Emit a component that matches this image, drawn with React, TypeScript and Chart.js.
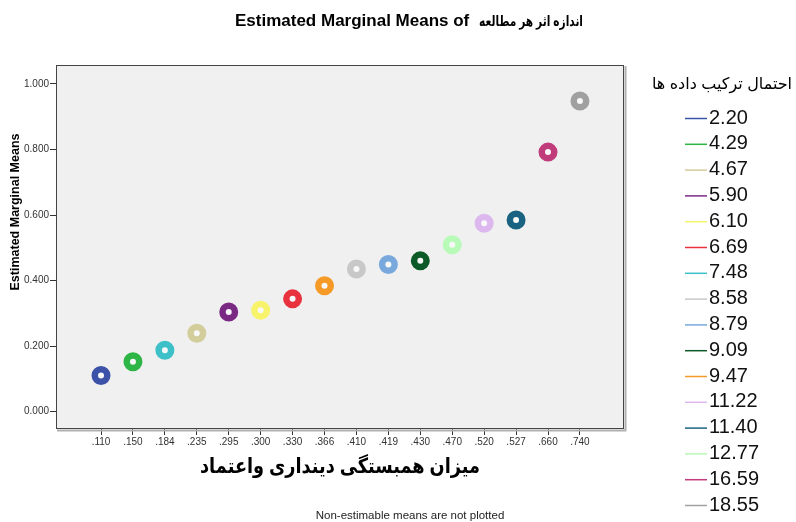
import React, { useEffect, useRef } from "react";
import { Chart, registerables } from "chart.js";

Chart.register(...registerables);

const categories = [".110", ".150", ".184", ".235", ".295", ".300", ".330", ".366", ".410", ".419", ".430", ".470", ".520", ".527", ".660", ".740"];
const means = [0.110, 0.152, 0.187, 0.239, 0.304, 0.309, 0.344, 0.384, 0.435, 0.449, 0.460, 0.509, 0.575, 0.585, 0.792, 0.948];
const categoryGroup = ["2.20", "4.29", "7.48", "4.67", "5.90", "6.10", "6.69", "9.47", "8.58", "8.79", "9.09", "12.77", "11.22", "11.40", "16.59", "18.55"];
const groups = ["2.20", "4.29", "4.67", "5.90", "6.10", "6.69", "7.48", "8.58", "8.79", "9.09", "9.47", "11.22", "11.40", "12.77", "16.59", "18.55"];
const groupColors = ["#3b52a8", "#2db545", "#d2cd9a", "#7a2a82", "#f7f46c", "#e8323e", "#3ec0c8", "#c8c8c8", "#78a8dc", "#0c5a28", "#f59a26", "#dcb8ee", "#1a6282", "#b8fab8", "#c03c7a", "#a0a0a0"];
const yTicks = [0, 0.2, 0.4, 0.6, 0.8, 1.0];

const chartTitleEn = "Estimated Marginal Means of";
const chartTitleFa = "اندازه اثر هر مطالعه";
const yTitle = "Estimated Marginal Means";
const xTitle = "میزان همبستگی دینداری واعتماد";
const legendTitle = "احتمال ترکیب داده ها";
const footnote = "Non-estimable means are not plotted";

const FONT = "Arial, 'Liberation Sans', 'DejaVu Sans', sans-serif";

const decorPlugin = {
  id: "decor",
  beforeDraw(chart: any) {
    const { ctx, chartArea } = chart;
    const { left, top, right, bottom } = chartArea;
    ctx.save();
    ctx.fillStyle = "#ffffff";
    ctx.fillRect(0, 0, chart.width, chart.height);
    ctx.fillStyle = "#f0f0f0";
    ctx.fillRect(left, top, right - left, bottom - top);
    ctx.restore();
  },
  afterDraw(chart: any) {
    const { ctx, chartArea } = chart;
    const { left, top, right, bottom } = chartArea;
    ctx.save();
    // shadow
    ctx.strokeStyle = "#b0b0b0";
    ctx.lineWidth = 2;
    ctx.beginPath();
    ctx.moveTo(right + 1.5, top + 1);
    ctx.lineTo(right + 1.5, bottom + 1.5);
    ctx.lineTo(left + 1, bottom + 1.5);
    ctx.stroke();
    // frame
    ctx.strokeStyle = "#444444";
    ctx.lineWidth = 1;
    ctx.strokeRect(left + 0.5, top + 0.5, right - left - 1, bottom - top - 1);

    // chart title
    ctx.fillStyle = "#000";
    ctx.textBaseline = "alphabetic";
    ctx.textAlign = "left";
    ctx.font = `bold 17px ${FONT}`;
    ctx.fillText(chartTitleEn, 235, 26, 237);
    ctx.textAlign = "right";
    ctx.font = `bold 14.5px ${FONT}`;
    ctx.fillText(chartTitleFa, 583, 26, 104);

    ctx.textAlign = "center";
    ctx.textBaseline = "middle";
    // y title
    ctx.save();
    ctx.translate(16, 212);
    ctx.rotate(-Math.PI / 2);
    ctx.font = `bold 12.5px ${FONT}`;
    ctx.fillText(yTitle, 0, 0);
    ctx.restore();

    // x title
    ctx.font = `bold 21px ${FONT}`;
    ctx.fillText(xTitle, (left + right) / 2, 467, 280);

    // footnote
    ctx.font = `11.5px ${FONT}`;
    ctx.fillStyle = "#222";
    ctx.fillText(footnote, 410, 516);

    // legend
    ctx.fillStyle = "#000";
    ctx.font = `16px ${FONT}`;
    ctx.fillText(legendTitle, 722, 85);
    ctx.textAlign = "left";
    ctx.font = `20px ${FONT}`;
    chart.data.datasets.forEach((ds: any, i: number) => {
      const y = 117 + i * 25.8;
      ctx.strokeStyle = ds.pointBorderColor;
      ctx.lineWidth = 1.5;
      ctx.beginPath();
      ctx.moveTo(685, y + 1.5);
      ctx.lineTo(707, y + 1.5);
      ctx.stroke();
      ctx.fillStyle = "#111";
      ctx.fillText(ds.label, 709, y + 1);
    });
    ctx.restore();
  },
};

export default function App() {
  const ref = useRef<HTMLCanvasElement>(null);
  useEffect(() => {
    document.body.style.margin = "0";
    const datasets = groups.map((g, gi) => ({
      label: g,
      data: categoryGroup
        .map((cg, j) => (cg === g ? { x: j, y: means[j] } : null))
        .filter((p) => p !== null),
      pointRadius: 6.25,
      pointHoverRadius: 6.25,
      pointBorderWidth: 6.5,
      pointBorderColor: groupColors[gi],
      pointBackgroundColor: "#f8f8f8",
      showLine: false,
    }));
    const chart = new Chart(ref.current as HTMLCanvasElement, {
      type: "scatter",
      data: { datasets } as any,
      options: {
        animation: false,
        responsive: false,
        devicePixelRatio: 1,
        layout: { padding: { top: 65, right: 172, left: 0, bottom: 0 } },
        plugins: { legend: { display: false }, tooltip: { enabled: false }, title: { display: false } },
        scales: {
          x: {
            type: "linear",
            min: -1.41,
            max: 16.38,
            afterFit: (s: any) => { s.height = 93; },
            afterBuildTicks: (s: any) => { s.ticks = categories.map((_, i) => ({ value: i })); },
            border: { display: false },
            grid: { drawOnChartArea: false, drawTicks: true, tickLength: 6, color: "#333" },
            ticks: {
              autoSkip: false,
              maxRotation: 0,
              padding: 1,
              color: "#333",
              font: { size: 10, family: FONT },
              callback: (v: any) => categories[v] ?? "",
            },
          },
          y: {
            min: -0.0534,
            max: 1.058,
            afterFit: (s: any) => { s.width = 56; },
            afterBuildTicks: (s: any) => { s.ticks = yTicks.map((v) => ({ value: v })); },
            border: { display: false },
            grid: { drawOnChartArea: false, drawTicks: true, tickLength: 6, color: "#333" },
            ticks: {
              autoSkip: false,
              padding: 1,
              color: "#333",
              font: { size: 10, family: FONT },
              callback: (v: any) => Number(v).toFixed(3),
            },
          },
        },
      } as any,
      plugins: [decorPlugin],
    });
    return () => chart.destroy();
  }, []);
  return (
    <div style={{ width: 796, height: 522 }}>
      <canvas ref={ref} width={796} height={522} style={{ display: "block" }} />
    </div>
  );
}
